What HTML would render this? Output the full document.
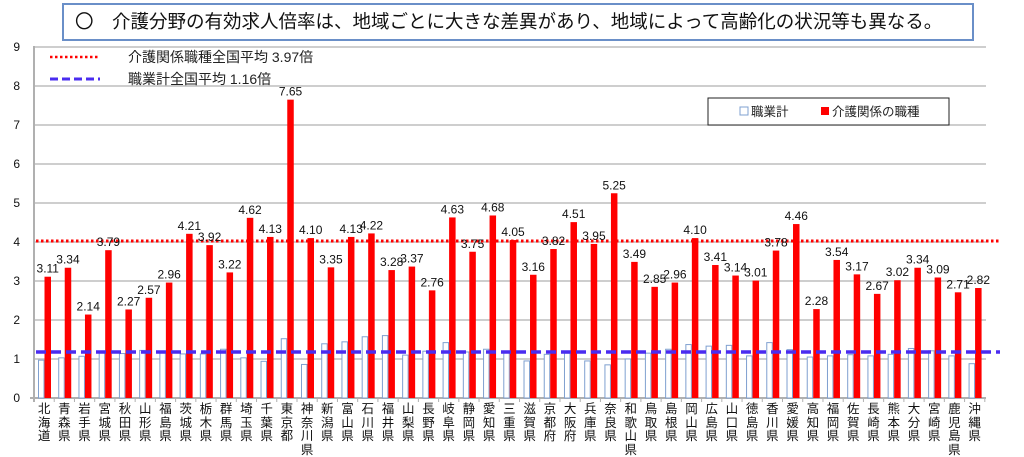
<!DOCTYPE html>
<html><head><meta charset="utf-8"><style>
body{margin:0;background:#fff;width:1024px;height:446px;overflow:hidden;position:relative;font-family:"Liberation Sans","Noto Sans CJK JP",sans-serif}
#title{position:absolute;left:62px;top:3px;width:912px;height:38px;border:2px solid #6a8fc8;box-sizing:border-box;font-size:18.5px;line-height:33px;padding-left:11px;color:#111;white-space:nowrap}
.cat{position:absolute;top:403px;width:20px;font-size:12.5px;line-height:13.5px;text-align:center;color:#111}
.cat span{display:block}
</style></head><body>
<svg id="s" width="1024" height="446" style="position:absolute;left:0;top:0" font-family="Liberation Sans, Noto Sans CJK JP, sans-serif">
<g id="grid"></g>
<g id="bars"></g>
<line x1="36" y1="241" x2="1000" y2="241" stroke="#ff0000" stroke-width="3" stroke-dasharray="2.5,2.5"/>
<line x1="36" y1="352" x2="1000" y2="352" stroke="#4a2cf0" stroke-width="3.5" stroke-dasharray="10,5"/>
<line x1="50" y1="57" x2="100" y2="57" stroke="#ff0000" stroke-width="2.5" stroke-dasharray="2.5,2.5"/>
<line x1="50" y1="79" x2="100" y2="79" stroke="#4a2cf0" stroke-width="3" stroke-dasharray="8,4"/>
<text x="128" y="62" font-size="14" fill="#222">介護関係職種全国平均  3.97倍</text>
<text x="128" y="84" font-size="14" fill="#222">職業計全国平均  1.16倍</text>
<rect x="708" y="98" width="241" height="27" fill="#fff" stroke="#222" stroke-width="1"/>
<rect x="740" y="107" width="8" height="8" fill="#fff" stroke="#7fa0d0"/>
<text x="751" y="116" font-size="12.5" fill="#222">職業計</text>
<rect x="821" y="107" width="8" height="8" fill="#ff0000"/>
<text x="832" y="116" font-size="12.5" fill="#222">介護関係の職種</text>
<g font-size="12" fill="#111" text-anchor="end">
<text x="20" y="402">0</text><text x="20" y="363">1</text><text x="20" y="324">2</text><text x="20" y="285">3</text><text x="20" y="246">4</text><text x="20" y="207">5</text><text x="20" y="168">6</text><text x="20" y="129">7</text><text x="20" y="90">8</text><text x="20" y="51">9</text>
</g>
<g id="vals" font-size="12" fill="#111" text-anchor="middle">
<text>3.11</text><text>3.34</text><text>2.14</text><text>3.79</text><text>2.27</text><text>2.57</text><text>2.96</text><text>4.21</text><text>3.92</text><text>3.22</text><text>4.62</text><text>4.13</text><text>7.65</text><text>4.10</text><text>3.35</text><text>4.13</text><text>4.22</text><text>3.28</text><text>3.37</text><text>2.76</text><text>4.63</text><text>3.75</text><text>4.68</text><text>4.05</text><text>3.16</text><text>3.82</text><text>4.51</text><text>3.95</text><text>5.25</text><text>3.49</text><text>2.85</text><text>2.96</text><text>4.10</text><text>3.41</text><text>3.14</text><text>3.01</text><text>3.78</text><text>4.46</text><text>2.28</text><text>3.54</text><text>3.17</text><text>2.67</text><text>3.02</text><text>3.34</text><text>3.09</text><text>2.71</text><text>2.82</text>
</g>
</svg>
<div id="title">〇　介護分野の有効求人倍率は、地域ごとに大きな差異があり、地域によって高齢化の状況等も異なる。</div>
<div id="cats">
<div class="cat"><span>北</span><span>海</span><span>道</span></div><div class="cat"><span>青</span><span>森</span><span>県</span></div><div class="cat"><span>岩</span><span>手</span><span>県</span></div><div class="cat"><span>宮</span><span>城</span><span>県</span></div><div class="cat"><span>秋</span><span>田</span><span>県</span></div><div class="cat"><span>山</span><span>形</span><span>県</span></div><div class="cat"><span>福</span><span>島</span><span>県</span></div><div class="cat"><span>茨</span><span>城</span><span>県</span></div><div class="cat"><span>栃</span><span>木</span><span>県</span></div><div class="cat"><span>群</span><span>馬</span><span>県</span></div><div class="cat"><span>埼</span><span>玉</span><span>県</span></div><div class="cat"><span>千</span><span>葉</span><span>県</span></div><div class="cat"><span>東</span><span>京</span><span>都</span></div><div class="cat"><span>神</span><span>奈</span><span>川</span><span>県</span></div><div class="cat"><span>新</span><span>潟</span><span>県</span></div><div class="cat"><span>富</span><span>山</span><span>県</span></div><div class="cat"><span>石</span><span>川</span><span>県</span></div><div class="cat"><span>福</span><span>井</span><span>県</span></div><div class="cat"><span>山</span><span>梨</span><span>県</span></div><div class="cat"><span>長</span><span>野</span><span>県</span></div><div class="cat"><span>岐</span><span>阜</span><span>県</span></div><div class="cat"><span>静</span><span>岡</span><span>県</span></div><div class="cat"><span>愛</span><span>知</span><span>県</span></div><div class="cat"><span>三</span><span>重</span><span>県</span></div><div class="cat"><span>滋</span><span>賀</span><span>県</span></div><div class="cat"><span>京</span><span>都</span><span>府</span></div><div class="cat"><span>大</span><span>阪</span><span>府</span></div><div class="cat"><span>兵</span><span>庫</span><span>県</span></div><div class="cat"><span>奈</span><span>良</span><span>県</span></div><div class="cat"><span>和</span><span>歌</span><span>山</span><span>県</span></div><div class="cat"><span>鳥</span><span>取</span><span>県</span></div><div class="cat"><span>島</span><span>根</span><span>県</span></div><div class="cat"><span>岡</span><span>山</span><span>県</span></div><div class="cat"><span>広</span><span>島</span><span>県</span></div><div class="cat"><span>山</span><span>口</span><span>県</span></div><div class="cat"><span>徳</span><span>島</span><span>県</span></div><div class="cat"><span>香</span><span>川</span><span>県</span></div><div class="cat"><span>愛</span><span>媛</span><span>県</span></div><div class="cat"><span>高</span><span>知</span><span>県</span></div><div class="cat"><span>福</span><span>岡</span><span>県</span></div><div class="cat"><span>佐</span><span>賀</span><span>県</span></div><div class="cat"><span>長</span><span>崎</span><span>県</span></div><div class="cat"><span>熊</span><span>本</span><span>県</span></div><div class="cat"><span>大</span><span>分</span><span>県</span></div><div class="cat"><span>宮</span><span>崎</span><span>県</span></div><div class="cat"><span>鹿</span><span>児</span><span>島</span><span>県</span></div><div class="cat"><span>沖</span><span>縄</span><span>県</span></div>
</div>
<script>
var NS="http://www.w3.org/2000/svg";
function el(p,t,a){var e=document.createElementNS(NS,t);for(var k in a)e.setAttribute(k,a[k]);p.appendChild(e);return e;}
var red=[3.11,3.34,2.14,3.79,2.27,2.57,2.96,4.21,3.92,3.22,4.62,4.13,7.65,4.10,3.35,4.13,4.22,3.28,3.37,2.76,4.63,3.75,4.68,4.05,3.16,3.82,4.51,3.95,5.25,3.49,2.85,2.96,4.10,3.41,3.14,3.01,3.78,4.46,2.28,3.54,3.17,2.67,3.02,3.34,3.09,2.71,2.82];
var blue=[0.97,1.03,1.07,1.17,1.14,1.22,1.19,1.13,1.13,1.25,1.03,0.94,1.52,0.86,1.39,1.44,1.57,1.6,1.1,1.2,1.42,1.18,1.25,1.17,0.95,1.12,1.15,0.95,0.85,1.0,1.15,1.25,1.37,1.33,1.35,1.08,1.42,1.24,1.05,1.08,1.11,1.08,1.12,1.27,1.21,1.08,0.88];
var X0=34,W=20.23,Y0=398,U=39;
var g=document.getElementById('grid'),b=document.getElementById('bars');
for(var v=1;v<=9;v++)el(g,'line',{x1:X0,x2:986,y1:Y0-U*v,y2:Y0-U*v,stroke:'#b0b0b0','stroke-width':1.2});
el(g,'line',{x1:X0,x2:X0,y1:46,y2:Y0+4,stroke:'#b0b0b0','stroke-width':2});
el(g,'line',{x1:X0-4,x2:986,y1:Y0,y2:Y0,stroke:'#b0b0b0','stroke-width':2});
for(var i=0;i<=47;i++)el(g,'line',{x1:X0+W*i,x2:X0+W*i,y1:Y0,y2:Y0+4,stroke:'#b0b0b0'});
var vals=document.getElementById('vals').children,cats=document.querySelectorAll('.cat');
for(var i=0;i<47;i++){
 var x=X0+W*i;
 el(b,'rect',{x:x+4.5,y:Y0-U*blue[i],width:5.5,height:U*blue[i],fill:'#fff',stroke:'#7fa0d0','stroke-width':1});
 el(b,'rect',{x:x+10.5,y:Y0-U*red[i],width:6.5,height:U*red[i],fill:'#ff0000'});
 vals[i].setAttribute('x',x+13.75);vals[i].setAttribute('y',Y0-U*red[i]-4);
 cats[i].style.left=(x+0.1)+'px';
}
</script>
</body></html>
